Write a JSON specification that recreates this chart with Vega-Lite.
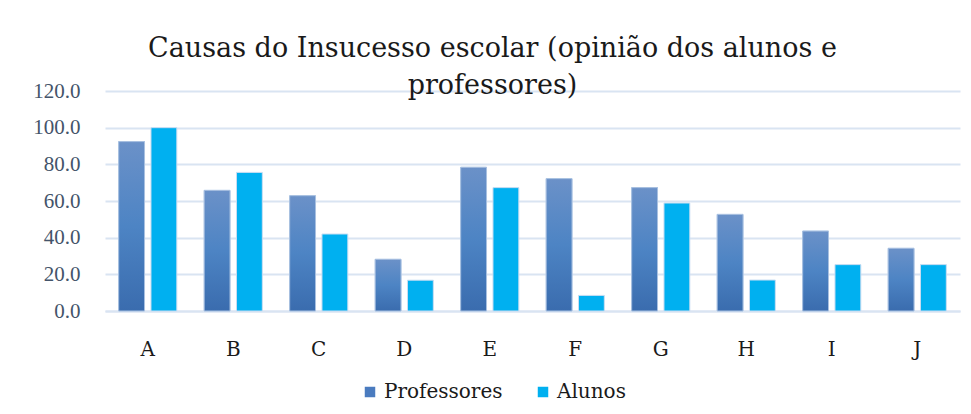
{
  "$schema": "https://vega.github.io/schema/vega-lite/v6.json",
  "width": 855,
  "height": 220,
  "autosize": {"type": "none"},
  "padding": {"left": 105, "top": 91, "right": 11, "bottom": 103},
  "background": "white",
  "title": {
    "text": ["Causas do Insucesso escolar (opinião dos alunos e", "professores)"],
    "font": "DejaVu Serif",
    "fontSize": 27,
    "fontWeight": "normal",
    "color": "#1a1a1a",
    "anchor": "middle",
    "lineHeight": 37,
    "dx": -40,
    "offset": -20
  },
  "data": {
    "values": [
      {"causa": "A", "grupo": "Professores", "valor": 92.4},
      {"causa": "A", "grupo": "Alunos", "valor": 100.0},
      {"causa": "B", "grupo": "Professores", "valor": 65.8},
      {"causa": "B", "grupo": "Alunos", "valor": 75.6},
      {"causa": "C", "grupo": "Professores", "valor": 62.9},
      {"causa": "C", "grupo": "Alunos", "valor": 42.0},
      {"causa": "D", "grupo": "Professores", "valor": 28.2},
      {"causa": "D", "grupo": "Alunos", "valor": 16.8},
      {"causa": "E", "grupo": "Professores", "valor": 78.4},
      {"causa": "E", "grupo": "Alunos", "valor": 67.3},
      {"causa": "F", "grupo": "Professores", "valor": 72.2},
      {"causa": "F", "grupo": "Alunos", "valor": 8.5},
      {"causa": "G", "grupo": "Professores", "valor": 67.3},
      {"causa": "G", "grupo": "Alunos", "valor": 58.9},
      {"causa": "H", "grupo": "Professores", "valor": 52.7},
      {"causa": "H", "grupo": "Alunos", "valor": 16.9},
      {"causa": "I", "grupo": "Professores", "valor": 43.6},
      {"causa": "I", "grupo": "Alunos", "valor": 25.3},
      {"causa": "J", "grupo": "Professores", "valor": 34.2},
      {"causa": "J", "grupo": "Alunos", "valor": 25.3}
    ]
  },
  "encoding": {
    "x": {
      "field": "causa", "type": "nominal",
      "scale": {"paddingInner": 0.32, "paddingOuter": 0.16},
      "axis": {
        "title": null, "labelAngle": 0, "ticks": false,
        "domainColor": "#D9E4F2", "domainWidth": 2,
        "labelFont": "DejaVu Serif", "labelFontSize": 20,
        "labelColor": "#1a1a1a", "labelPadding": 28
      }
    },
    "xOffset": {
      "field": "grupo", "type": "nominal",
      "sort": ["Professores", "Alunos"],
      "scale": {"paddingInner": 0.2, "paddingOuter": 0}
    },
    "y": {
      "field": "valor", "type": "quantitative",
      "scale": {"domain": [0, 120]},
      "axis": {
        "title": null, "values": [0, 20, 40, 60, 80, 100, 120],
        "format": ".1f", "domain": false, "ticks": false,
        "gridColor": "#D9E4F2", "gridWidth": 2,
        "labelFont": "Liberation Serif", "labelFontSize": 21,
        "labelColor": "#44546A", "labelPadding": 25
      }
    }
  },
  "layer": [
    {
      "mark": {"type": "bar", "stroke": "#C9DDF2", "strokeWidth": 1},
      "encoding": {
        "color": {
          "field": "grupo", "type": "nominal",
          "sort": ["Professores", "Alunos"],
          "scale": {"domain": ["Professores", "Alunos"], "range": ["#4A7BBF", "#00B0F0"]},
          "legend": {
            "title": null, "orient": "none", "direction": "horizontal",
            "legendX": 255, "legendY": 291,
            "symbolType": "square", "symbolSize": 110, "symbolStrokeWidth": 0,
            "labelFont": "DejaVu Serif", "labelFontSize": 20, "labelColor": "#1a1a1a",
            "columnPadding": 30, "labelOffset": 4
          }
        }
      }
    },
    {
      "transform": [{"filter": "datum.grupo === 'Professores'"}],
      "mark": {
        "type": "bar", "stroke": "#A9C0E0", "strokeWidth": 1,
        "fill": {
          "gradient": "linear", "x1": 0, "y1": 0, "x2": 0, "y2": 1,
          "stops": [{"offset": 0, "color": "#6B91C8"}, {"offset": 0.5, "color": "#4D84C4"}, {"offset": 1, "color": "#3A6CAE"}]
        }
      }
    }
  ],
  "config": {"view": {"stroke": null}}
}
